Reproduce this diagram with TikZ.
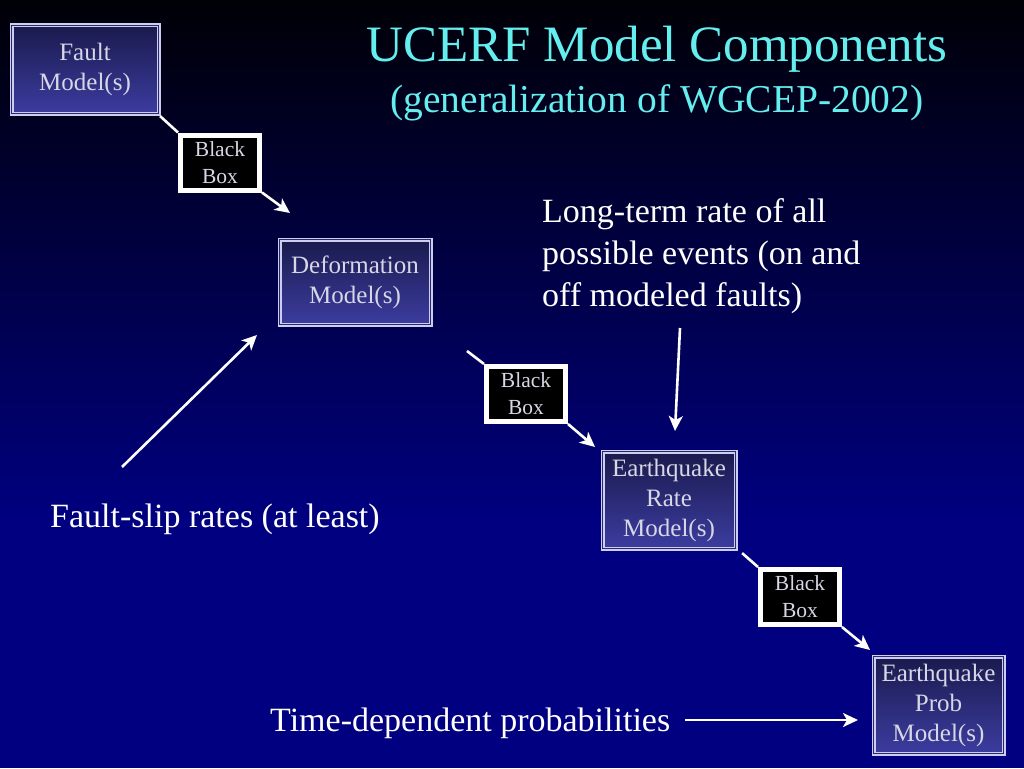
\documentclass[tikz,border=0pt]{standalone}
\usepackage{fontspec}
\setmainfont{Liberation Serif}
\usetikzlibrary{arrows.meta}
\definecolor{navybg}{RGB}{0,0,128}
\definecolor{topbg}{RGB}{0,0,6}
\definecolor{titlecyan}{RGB}{100,238,238}
\definecolor{boxtop}{RGB}{26,26,78}
\definecolor{boxbot}{RGB}{60,60,160}
\definecolor{boxline}{RGB}{205,205,240}
\definecolor{boxgap}{RGB}{40,40,110}
\definecolor{boxtext}{RGB}{215,215,230}
\tikzset{
  model/.style={draw=boxline, line width=1.2pt, double=boxgap, double distance=1.6pt,
    top color=boxtop, bottom color=boxbot, text=boxtext, align=center, inner sep=0pt,
    font=\fontsize{25}{30}\selectfont},
  blackbox/.style={draw=white, line width=5pt, fill=black, text=boxtext, align=center,
    inner sep=0pt, minimum width=79pt, minimum height=55pt,
    font=\fontsize{21.5}{27}\selectfont},
  link/.style={white, line width=2.6pt},
  arr/.style={white, line width=2.6pt, -{Stealth[length=15pt,width=14pt,inset=4pt]}},
  body/.style={text=white, inner sep=0pt, font=\fontsize{34}{42}\selectfont},
}
\begin{document}
\begin{tikzpicture}[x=1pt,y=-1pt]
\useasboundingbox (0,0) rectangle (1024,768);
\shade[top color=topbg, bottom color=navybg] (0,0) rectangle (1024,520);
\fill[navybg] (0,519.5) rectangle (1024,768);

% title
\node[text=titlecyan, anchor=base, inner sep=0pt, font=\fontsize{51}{60}\selectfont] (title) at (657,62) {UCERF Model Components};
\node[text=titlecyan, anchor=base, inner sep=0pt, font=\fontsize{39.5}{46}\selectfont] (subtitle) at (657,112) {(generalization of WGCEP-2002)};

% model boxes
\node[model, minimum width=147pt, minimum height=88pt] (fault) at (85,69.5) {Fault\\Model(s)};
\node[model, minimum width=151pt, minimum height=85pt] (deform) at (355,282) {Deformation\\Model(s)};
\node[model, minimum width=133pt, minimum height=97pt] (eqrate) at (669,500) {Earthquake\\Rate\\Model(s)};
\node[model, minimum width=130pt, minimum height=97pt] (eqprob) at (938.5,705) {Earthquake\\Prob\\Model(s)};

% black boxes
\node[blackbox] (bb1) at (220,162.5) {Black\\Box};
\node[blackbox] (bb2) at (526,394) {Black\\Box};
\node[blackbox] (bb3) at (800,597) {Black\\Box};

% connectors through black boxes
\coordinate (t1) at (290,213);
\coordinate (t2) at (595,447);
\coordinate (t3) at (870,650);
\coordinate (s2) at (467,351);
\draw[link] (fault.south east) ++(1,2) coordinate (s1) -- (bb1.north west);
\draw[link] (s2) -- (bb2.north west);
\draw[link] (eqrate.south east) ++(6,4) coordinate (s3) -- (bb3.north west);
\draw[arr] (bb1.south east) -- (t1);
\draw[arr] (bb2.south east) -- (t2);
\draw[arr] (bb3.south east) -- (t3);

% annotations
\node[body, anchor=base west, align=left] (longterm) at (542,306) {Long-term rate of all\\possible events (on and\\off modeled faults)};
\node[body, anchor=base west] (slip) at (50,527) {Fault-slip rates (at least)};
\node[body, anchor=base west] (timedep) at (270,731) {Time-dependent probabilities};

\coordinate (ltstart) at (680,328);
\coordinate (ltend) at (675,431);
\coordinate (slstart) at (122,467);
\coordinate (slend) at (257,335);
\coordinate (tdstart) at (685,720);
\coordinate (tdend) at (858,720);
\draw[arr] (ltstart) -- (ltend);
\draw[arr] (slstart) -- (slend);
\draw[arr] (tdstart) -- (tdend);
\end{tikzpicture}
\end{document}
